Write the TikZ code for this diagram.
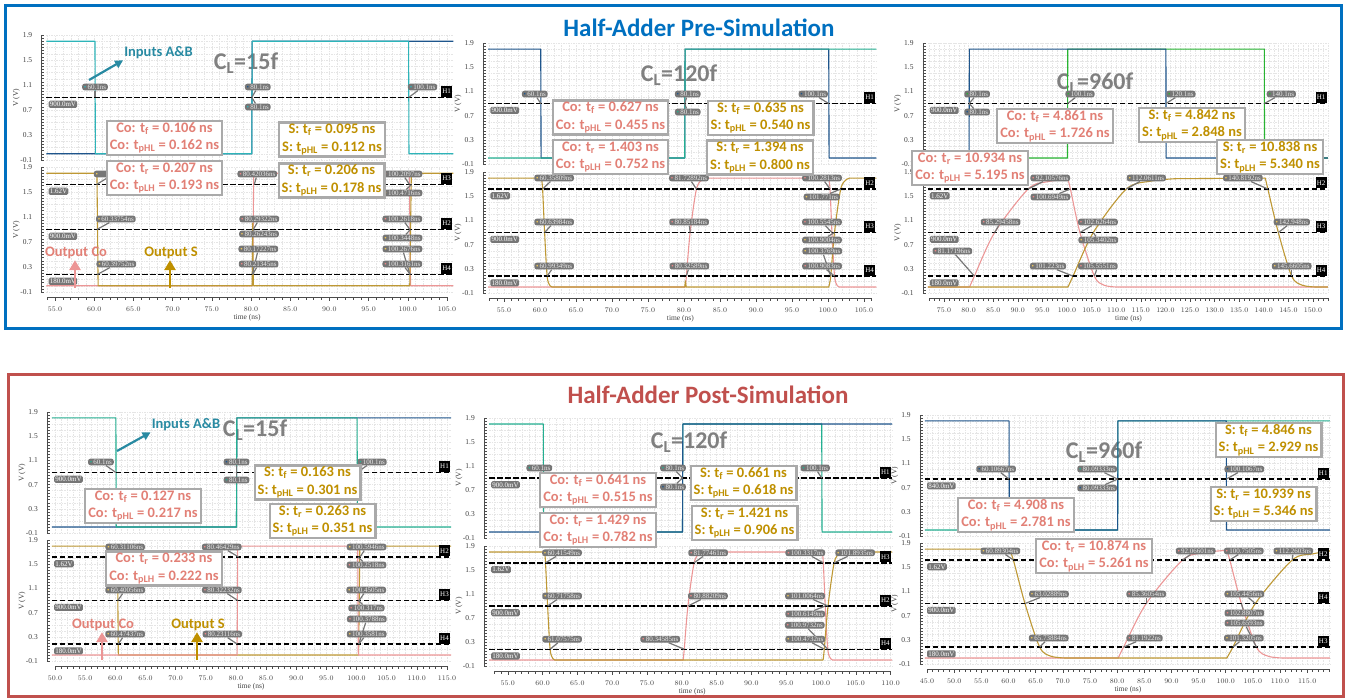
\documentclass[tikz,border=0pt]{standalone}
\usepackage{fontspec}
\setmainfont{Carlito}
\newfontfamily\plotfont{Liberation Serif}
\usetikzlibrary{arrows.meta}

\definecolor{preblue}{RGB}{0,112,192}
\definecolor{postred}{RGB}{192,80,77}
\definecolor{inAone}{RGB}{45,180,185}
\definecolor{inA}{RGB}{35,175,145}
\definecolor{inG}{RGB}{40,180,50}
\definecolor{inB}{RGB}{30,85,140}
\definecolor{wavePink}{RGB}{236,150,150}
\definecolor{waveGold}{RGB}{190,152,52}
\definecolor{dotPink}{RGB}{238,135,135}
\definecolor{dotGold}{RGB}{240,200,90}
\definecolor{coText}{RGB}{226,128,118}
\definecolor{sText}{RGB}{191,144,0}
\definecolor{inText}{RGB}{40,138,162}
\definecolor{boxGray}{RGB}{170,170,170}
\definecolor{mkGray}{RGB}{118,118,118}
\definecolor{clGray}{RGB}{128,128,128}

\newcommand{\tsb}[1]{t\textsubscript{#1}}

% grid, V ruler and its labels for one sub-plot
\newcommand{\yaxis}[2]{%
  \draw[gridline] (#1,-0.1) grid[xstep=1,ystep=0.1] (#2,1.9);
  \draw[axisline] ([xshift=-5pt]#1,-0.1) -- ([xshift=-5pt]#1,1.9);
  \foreach \i in {0,...,40}
    \draw[axisline] ([xshift=-5pt]#1,{-0.1+0.05*\i}) -- ++(3pt,0pt);
  \foreach \yv [count=\k] in {-0.1,0.3,0.7,1.1,1.5,1.9}
    \node[ylab, anchor=east] (yl\k) at ([xshift=-14pt]#1,\yv) {\yv};
  \node[ylab, rotate=90] (vlab) at ([xshift=-30pt]#1,0.9) {V (V)};
}
% time ruler: first tick, last tick, labels a, b, ..., z
\newcommand{\taxis}[5]{%
  \pgfmathsetmacro\tmid{(#1+#2)/2}
  \draw[axisline] ([yshift=-5pt]#1,-0.1) -- ([yshift=-5pt]#2,-0.1);
  \foreach \tm in {#1,...,#2}
    \draw[axisline] ([yshift=-5pt]\tm,-0.1) -- ++(0pt,-2.5pt);
  \foreach \tm [count=\k] in {#3,#4,...,#5}{
    \draw[axisline] ([yshift=-5pt]\tm,-0.1) -- ++(0pt,-4pt);
    \node[ylab] (tl\k) at ([yshift=-17pt]\tm,-0.1)
      {\pgfmathprintnumber[fixed,fixed zerofill,precision=1]{\tm}};}
  \node[ylab] (tlab) at ([yshift=-26pt]\tmid,-0.1) {time (ns)};
}
% threshold: level, left, right, tag, value
\newcommand{\thr}[5]{%
  \draw[thrline] (#2,#1) -- (#3,#1);
  \node[hbox, anchor=east] (hb) at ([xshift=-1pt,yshift=6pt]#3,#1) {#4};
  \node[valbox, anchor=north west] (vb) at ([xshift=2pt,yshift=-3pt]#2,#1) {#5};
}
% marker: dot colour, time, level, dx, dy, text
\newcommand{\mk}[6]{%
  \coordinate (mp) at (#2,#3);
  \node[mkbox, xshift=#4pt, yshift=#5pt] (mb) at (mp) {{\color{#1}\textbullet}\,#6};
  \draw[mkline] (mb) -- (mp);
}

\tikzset{
  gridline/.style={black!10, line width=0.3pt, dash pattern=on 1.5pt off 1pt},
  axisline/.style={black!70, line width=0.5pt},
  ylab/.style={font=\plotfont\fontsize{7.5}{8}\selectfont, text=black!75, inner sep=0pt},
  thrline/.style={black, line width=1.4pt, dash pattern=on 5.5pt off 2.5pt},
  hbox/.style={fill=black, text=white, inner sep=1pt, minimum size=11pt,
    font=\plotfont\fontsize{7}{8}\selectfont},
  valbox/.style={fill=mkGray, text=white, rounded corners=1.5pt, inner sep=1.2pt,
    font=\plotfont\fontsize{7}{8}\selectfont},
  mkbox/.style={fill=mkGray, text=white!92!black, rounded corners=2.5pt,
    inner xsep=1.8pt, inner ysep=1pt, font=\plotfont\fontsize{7}{8}\selectfont},
  mkline/.style={draw=mkGray, line width=1.2pt},
  wave/.style={line width=1.1pt, line join=round},
  anno/.style={draw=boxGray, line width=2.3pt, fill=white, align=center,
    inner xsep=3pt, inner ysep=1.5pt, font=\bfseries\fontsize{14.5}{17.5}\selectfont},
  cl/.style={text=clGray, font=\bfseries\fontsize{24}{26}\selectfont},
  heading/.style={font=\bfseries\fontsize{25}{28}\selectfont},
  tag/.style={font=\bfseries\fontsize{14.5}{16}\selectfont, inner sep=1pt},
  bigarrow/.style={line width=2.8pt, -{Triangle[length=10pt, width=11pt]}},
  top1/.style={shift={(-376.2,153.75)}, x=7.84pt, y=62.5pt},
  bot1/.style={shift={(-376.2,285.75)}, x=7.84pt, y=62.5pt},
  top2/.style={shift={(108,158)}, x=7.2pt, y=60.5pt},
  bot2/.style={shift={(108,287)}, x=7.2pt, y=60.5pt},
  top3/.style={shift={(575,158)}, x=4.92pt, y=60.5pt},
  bot3/.style={shift={(575,287)}, x=4.92pt, y=60.5pt},
  top4/.style={shift={(-246.5,527)}, x=6.03pt, y=60.6pt},
  bot4/.style={shift={(-246.5,655)}, x=6.03pt, y=60.5pt},
  top5/.style={shift={(125,532)}, x=6.96pt, y=60pt},
  bot5/.style={shift={(125,660)}, x=6.96pt, y=60pt},
  top6/.style={shift={(682.7,530)}, x=5.43pt, y=60.6pt},
  bot6/.style={shift={(682.7,658)}, x=5.43pt, y=60.5pt},
}

\begin{document}
\begin{tikzpicture}[x=1pt, y=-1pt]
  \useasboundingbox (0,0) rectangle (1348,698);

  % frames and headings
  \draw[preblue, line width=3pt] (5,6) rectangle (1341,328);
  \draw[postred, line width=3pt] (8,374) rectangle (1343,696);
  \node[heading, text=preblue] (pre) at (699,28) {Half-Adder Pre-Simulation};
  \node[heading, text=postred] (post) at (708,395) {Half-Adder Post-Simulation};

  %% ---------- pre, 15f ----------
  \begin{scope}[top1] \yaxis{53.9}{105.8} \end{scope}
  \node[cl] (cl1) at (246,63) {C\textsubscript{L}=15f};
  \begin{scope}[top1]
    \draw[wave, inB] (53.9,0) -- (80.1,0) -- (80.15,1.8) -- (105.8,1.8);
    \draw[wave, inAone] (53.9,1.8) -- (60.1,1.8) -- (60.15,0) -- (80.1,0) -- (80.15,1.8)
      -- (100.1,1.8) -- (100.15,0) -- (105.8,0);
    \thr{0.9}{53.9}{105.8}{H1}{900.0mV}
    \mk{inAone}{60.1}{0.9}{0}{10.5}{60.1ns}
    \mk{inB}{80.1}{0.9}{6}{10.5}{80.1ns}
    \mk{inAone}{80.1}{0.9}{6}{-9.5}{80.1ns}
    \mk{inAone}{100.1}{0.9}{14}{10.5}{100.1ns}
  \end{scope}
  \begin{scope}[bot1]
    \yaxis{53.9}{105.8}
    \taxis{54}{105}{55}{60}{105}
    \draw[wave, wavePink] (53.9,0) -- (80.2,0) -- (80.35,1.8) -- (100.2,1.8) -- (100.35,0) -- (105.8,0);
    \draw[wave, waveGold] (53.9,1.8) -- (60.35,1.8) -- (60.5,0) -- (80.15,0) -- (80.22,1.0)
      -- (80.3,0) -- (100.25,0) -- (100.45,1.8) -- (105.8,1.8);
    \thr{1.62}{53.9}{105.8}{H3}{1.62V}
    \thr{0.9}{53.9}{105.8}{H2}{900.0mV}
    \thr{0.18}{53.9}{105.8}{H4}{180.0mV}
    \mk{dotGold}{60.3}{1.62}{17}{10.5}{\phantom{60.31106ns}}
    \mk{dotGold}{60.34}{0.9}{19}{10.5}{60.33754ns}
    \mk{dotGold}{60.4}{0.18}{19}{10.5}{60.39752ns}
    \mk{dotPink}{80.42}{1.62}{3}{10.5}{80.42036ns}
    \mk{dotPink}{80.29}{0.9}{6}{10.5}{80.29322ns}
    \mk{dotGold}{80.26}{0.9}{6}{-4.5}{80.26243ns}
    \mk{dotGold}{80.17}{0.18}{6}{25.5}{80.17227ns}
    \mk{dotPink}{80.21}{0.18}{6}{10.5}{80.21345ns}
    \mk{dotPink}{100.21}{1.62}{-7}{10.5}{100.2097ns}
    \mk{dotGold}{100.47}{1.62}{-9}{-8.5}{100.4716ns}
    \mk{dotPink}{100.26}{0.9}{-7.5}{10.5}{100.2618ns}
    \mk{dotGold}{100.34}{0.9}{-8}{-8.5}{100.3448ns}
    \mk{dotGold}{100.27}{0.18}{-7.5}{25.5}{100.2676ns}
    \mk{dotPink}{100.32}{0.18}{-8}{10.5}{100.3161ns}
  \end{scope}

  %% ---------- pre, 120f ----------
  \begin{scope}[top2] \yaxis{52.8}{106.7} \end{scope}
  \node[cl] (cl2) at (679,75) {C\textsubscript{L}=120f};
  \begin{scope}[top2]
    \draw[wave, inB] (52.8,1.8) -- (60.1,1.8) -- (60.15,0) -- (80.1,0) -- (80.15,1.8)
      -- (100.1,1.8) -- (100.15,0) -- (106.7,0);
    \draw[wave, inA] (52.8,0) -- (80.1,0) -- (80.15,1.8) -- (106.7,1.8);
    \thr{0.9}{52.8}{106.7}{H1}{900.0mV}
    \mk{inB}{60.1}{0.9}{-6}{9.5}{60.1ns}
    \mk{inB}{80.1}{0.9}{3}{9.5}{80.1ns}
    \mk{inA}{80.1}{0.9}{3}{-8.5}{80.1ns}
    \mk{inB}{100.1}{0.9}{-15.5}{9.5}{100.1ns}
  \end{scope}
  \begin{scope}[bot2]
    \yaxis{52.8}{106.7}
    \taxis{53}{106}{55}{60}{105}
    \draw[wave, wavePink] (52.8,0) -- (80.2,0)
      -- plot[smooth, tension=0.5] coordinates {(80.2,0) (80.33,0.18) (80.85,0.9) (81.73,1.62) (82.6,1.78) (83.3,1.8)}
      -- (100.1,1.8)
      -- plot[smooth, tension=0.5] coordinates {(100.1,1.8) (100.28,1.62) (100.55,0.9) (100.91,0.18) (101.3,0.02) (101.7,0)}
      -- (106.7,0);
    \draw[wave, waveGold] (52.8,1.8) -- (60.2,1.8)
      -- plot[smooth, tension=0.5] coordinates {(60.2,1.8) (60.36,1.62) (60.64,0.9) (60.99,0.18) (61.4,0.02) (61.8,0)}
      -- (80.1,0) -- (80.2,0.1) -- (80.3,0) -- (100.1,0)
      -- plot[smooth, tension=0.5] coordinates {(100.1,0) (100.38,0.18) (100.9,0.9) (101.77,1.62) (102.6,1.78) (103.2,1.8)}
      -- (106.7,1.8);
    \thr{1.62}{52.8}{106.7}{H2}{1.62V}
    \thr{0.9}{52.8}{106.7}{H3}{900.0mV}
    \thr{0.18}{52.8}{106.7}{H4}{180.0mV}
    \mk{dotGold}{60.36}{1.62}{11.5}{11}{60.35809ns}
    \mk{dotGold}{60.64}{0.9}{9.5}{10.5}{60.63984ns}
    \mk{dotGold}{60.99}{0.18}{7}{10}{60.99349ns}
    \mk{dotPink}{81.73}{1.62}{-7.5}{11}{81.72892ns}
    \mk{dotPink}{80.85}{0.9}{-1}{10.5}{80.85184ns}
    \mk{dotPink}{80.33}{0.18}{3}{10}{80.32589ns}
    \mk{dotPink}{100.28}{1.62}{-8}{11}{100.2813ns}
    \mk{dotGold}{101.77}{1.62}{-19}{-8}{101.771ns}
    \mk{dotPink}{100.55}{0.9}{-10}{10.5}{100.5545ns}
    \mk{dotGold}{100.9}{0.9}{-12.5}{-7.5}{100.9004ns}
    \mk{dotGold}{100.38}{0.18}{-8.5}{25}{100.3769ns}
    \mk{dotPink}{100.91}{0.18}{-12.5}{10}{100.9083ns}
  \end{scope}

  %% ---------- pre, 960f ----------
  \begin{scope}[top3] \yaxis{71.7}{153} \end{scope}
  \node[cl] (cl3) at (1095,83) {C\textsubscript{L}=960f};
  \begin{scope}[top3]
    \draw[wave, inG] (71.7,0) -- (100.1,0) -- (100.15,1.8) -- (140.1,1.8) -- (140.15,0) -- (153,0);
    \draw[wave, inB] (71.7,0) -- (80.1,0) -- (80.15,1.8) -- (120.1,1.8) -- (120.15,0) -- (153,0);
    \thr{0.9}{71.7}{153}{H1}{900.0mV}
    \mk{inG}{80.1}{0.9}{8}{9.5}{80.1ns}
    \mk{inB}{80.1}{0.9}{8}{-8.5}{80.1ns}
    \mk{inG}{100.1}{0.9}{12.5}{9.5}{100.1ns}
    \mk{inG}{120.1}{0.9}{15}{9.5}{120.1ns}
    \mk{inG}{140.1}{0.9}{17}{9.5}{140.1ns}
  \end{scope}
  \begin{scope}[bot3]
    \yaxis{71.7}{153}
    \taxis{72}{153}{75}{80}{150}
    \draw[wave, wavePink] (71.7,0) -- (80.2,0)
      -- plot[smooth, tension=0.5] coordinates {(80.2,0) (81.17,0.18) (85.29,0.9) (92.11,1.62) (96,1.74) (100.2,1.78)}
      -- plot[smooth, tension=0.5] coordinates {(100.2,1.78) (100.69,1.62) (102.63,0.9) (105.56,0.18) (107.5,0.03) (110,0)}
      -- (153,0);
    \draw[wave, waveGold] (71.7,0) -- (100.2,0)
      -- plot[smooth, tension=0.5] coordinates {(100.2,0) (101.22,0.18) (105.34,0.9) (112.06,1.62) (117,1.75) (122,1.79)}
      -- (140.3,1.8)
      -- plot[smooth, tension=0.5] coordinates {(140.3,1.8) (140.82,1.62) (142.95,0.9) (145.66,0.18) (147.8,0.03) (150.5,0)}
      -- (153,0);
    \thr{1.62}{71.7}{153}{H2}{1.62V}
    \thr{0.9}{71.7}{153}{H3}{900.0mV}
    \thr{0.18}{71.7}{153}{H4}{180.0mV}
    \mk{dotPink}{92.11}{1.62}{22}{11}{92.10576ns}
    \mk{dotPink}{100.69}{1.62}{-20}{-8}{100.6949ns}
    \mk{dotPink}{85.29}{0.9}{6}{10.5}{85.29458ns}
    \mk{dotPink}{81.17}{0.18}{-22}{25}{81.17196ns}
    \mk{dotPink}{102.63}{0.9}{18}{10.5}{102.6264ns}
    \mk{dotGold}{105.34}{0.9}{5}{-7.5}{105.3402ns}
    \mk{dotGold}{101.22}{0.18}{-25}{10}{101.223ns}
    \mk{dotPink}{105.56}{0.18}{3.5}{10}{105.5551ns}
    \mk{dotGold}{112.06}{1.62}{20}{11}{112.0611ns}
    \mk{dotGold}{140.82}{1.62}{-25}{11}{140.8192ns}
    \mk{dotGold}{142.95}{0.9}{13.5}{10.5}{142.948ns}
    \mk{dotGold}{145.66}{0.18}{0}{10}{145.6605ns}
  \end{scope}

  %% ---------- post, 15f ----------
  \begin{scope}[top4] \yaxis{49.5}{115.7} \end{scope}
  \node[cl] (cl4) at (255,430) {C\textsubscript{L}=15f};
  \begin{scope}[top4]
    \draw[wave, inB] (49.5,0) -- (80.1,0) -- (80.15,1.8) -- (115.7,1.8);
    \draw[wave, inA] (49.5,1.8) -- (60.1,1.8) -- (60.15,0) -- (80.1,0) -- (80.15,1.8)
      -- (100.1,1.8) -- (100.15,0) -- (115.7,0);
    \thr{0.9}{49.5}{115.7}{H1}{900.0mV}
    \mk{inA}{60.1}{0.9}{-15}{10.5}{60.1ns}
    \mk{inB}{80.1}{0.9}{0}{10.5}{80.1ns}
    \mk{inA}{80.1}{0.9}{0}{-7.5}{80.1ns}
    \mk{inA}{100.1}{0.9}{15}{10.5}{100.1ns}
  \end{scope}
  \begin{scope}[bot4]
    \yaxis{49.5}{115.7}
    \taxis{50}{115}{50}{55}{115}
    \draw[wave, waveGold] (49.5,1.8) -- (60.35,1.8) -- (60.5,0) -- (100.35,0) -- (100.55,1.8) -- (115.7,1.8);
    \draw[wave, wavePink] (49.5,0) -- (80.2,0) -- (80.3,1.8) -- (100.2,1.8) -- (100.3,0) -- (115.7,0);
    \thr{1.62}{49.5}{115.7}{H2}{1.62V}
    \thr{0.9}{49.5}{115.7}{H3}{900.0mV}
    \thr{0.18}{49.5}{115.7}{H4}{180.0mV}
    \mk{dotGold}{60.31}{1.62}{8}{10}{60.31106ns}
    \mk{dotGold}{60.4}{0.9}{7.5}{10.5}{60.40056ns}
    \mk{dotGold}{60.47}{0.18}{7}{10}{60.47437ns}
    \mk{dotPink}{80.46}{1.62}{-17}{10}{80.46429ns}
    \mk{dotPink}{80.32}{0.9}{-16}{10.5}{80.32232ns}
    \mk{dotPink}{80.23}{0.18}{-15}{10}{80.23116ns}
    \mk{dotGold}{100.59}{1.62}{6.5}{10}{100.5946ns}
    \mk{dotPink}{100.25}{1.62}{8.5}{-8}{100.2518ns}
    \mk{dotGold}{100.45}{0.9}{7}{10.5}{100.4505ns}
    \mk{dotPink}{100.32}{0.9}{8}{-7.5}{100.317ns}
    \mk{dotPink}{100.38}{0.18}{8}{25}{100.3788ns}
    \mk{dotGold}{100.36}{0.18}{8}{10}{100.3581ns}
  \end{scope}

  %% ---------- post, 120f ----------
  \begin{scope}[top5] \yaxis{52.3}{110.2} \end{scope}
  \node[cl] (cl5) at (689,442) {C\textsubscript{L}=120f};
  \begin{scope}[top5]
    \draw[wave, inA] (52.3,1.8) -- (60.1,1.8) -- (60.15,0) -- (80.1,0) -- (80.15,1.8)
      -- (100.1,1.8) -- (100.15,0) -- (110.2,0);
    \draw[wave, inB] (52.3,0) -- (80.1,0) -- (80.15,1.8) -- (110.2,1.8);
    \thr{0.9}{52.3}{110.2}{H1}{900.0mV}
    \mk{inA}{60.1}{0.9}{-4}{10}{60.1ns}
    \mk{inA}{80.1}{0.9}{-9.5}{10}{80.1ns}
    \mk{inB}{80.1}{0.9}{-9.5}{-9}{80.1ns}
    \mk{inA}{100.1}{0.9}{-6.5}{10}{100.1ns}
  \end{scope}
  \begin{scope}[bot5]
    \yaxis{52.3}{110.2}
    \taxis{53}{110}{55}{60}{110}
    \draw[wave, wavePink] (52.3,0) -- (80.2,0)
      -- plot[smooth, tension=0.5] coordinates {(80.2,0) (80.35,0.18) (80.88,0.9) (81.77,1.62) (82.6,1.78) (83.3,1.8)}
      -- (100.2,1.8)
      -- plot[smooth, tension=0.5] coordinates {(100.2,1.8) (100.33,1.62) (100.61,0.9) (100.97,0.18) (101.4,0.02) (101.8,0)}
      -- (110.2,0);
    \draw[wave, waveGold] (52.3,1.8) -- (60.3,1.8)
      -- plot[smooth, tension=0.5] coordinates {(60.3,1.8) (60.42,1.62) (60.72,0.9) (61.08,0.18) (61.5,0.02) (61.9,0)}
      -- (100.3,0)
      -- plot[smooth, tension=0.5] coordinates {(100.3,0) (100.47,0.18) (101.01,0.9) (101.89,1.62) (102.7,1.78) (103.3,1.8)}
      -- (110.2,1.8);
    \thr{1.62}{52.3}{110.2}{H3}{1.62V}
    \thr{0.9}{52.3}{110.2}{H2}{900.0mV}
    \thr{0.18}{52.3}{110.2}{H4}{180.0mV}
    \mk{dotGold}{60.42}{1.62}{16.5}{10}{60.41549ns}
    \mk{dotGold}{60.72}{0.9}{14.5}{10}{60.71758ns}
    \mk{dotGold}{61.08}{0.18}{12}{10}{61.07575ns}
    \mk{dotPink}{81.77}{1.62}{14}{10}{81.77461ns}
    \mk{dotPink}{80.88}{0.9}{20}{10}{80.88209ns}
    \mk{dotPink}{80.35}{0.18}{-24}{10}{80.34585ns}
    \mk{dotPink}{100.33}{1.62}{-18}{10}{100.3317ns}
    \mk{dotGold}{101.89}{1.62}{21}{10}{101.8935ns}
    \mk{dotGold}{101.01}{0.9}{-23}{10}{101.0064ns}
    \mk{dotPink}{100.61}{0.9}{-20}{-8}{100.6149ns}
    \mk{dotPink}{100.97}{0.18}{-23}{24}{100.9732ns}
    \mk{dotGold}{100.47}{0.18}{-19}{10}{100.4732ns}
  \end{scope}

  %% ---------- post, 960f ----------
  \begin{scope}[top6] \yaxis{44.6}{119.2} \end{scope}
  \node[cl] (cl6) at (1104,452) {C\textsubscript{L}=960f};
  \begin{scope}[top6]
    \draw[wave, inA] (44.6,0) -- (80.1,0) -- (80.15,1.8) -- (119.2,1.8);
    \draw[wave, inB] (44.6,1.8) -- (60.1,1.8) -- (60.15,0) -- (80.1,0) -- (80.15,1.8)
      -- (100.1,1.8) -- (100.15,0) -- (119.2,0);
    \thr{0.84}{44.6}{119.2}{H1}{840.0mV}
    \mk{inB}{60.11}{0.84}{-13}{10}{60.10667ns}
    \mk{inA}{80.09}{0.84}{-20.5}{10}{80.09333ns}
    \mk{inB}{80.09}{0.84}{-20.5}{-9}{80.09333ns}
    \mk{inB}{100.11}{0.84}{18}{10}{100.1067ns}
  \end{scope}
  \begin{scope}[bot6]
    \yaxis{44.6}{119.2}
    \taxis{45}{119}{45}{50}{115}
    \draw[wave, wavePink] (44.6,0) -- (80.2,0)
      -- plot[smooth, tension=0.5] coordinates {(80.2,0) (81.19,0.18) (85.36,0.9) (92.07,1.62) (96,1.74) (100.2,1.78)}
      -- plot[smooth, tension=0.5] coordinates {(100.2,1.78) (100.75,1.62) (102.88,0.9) (105.66,0.18) (107.8,0.03) (110.5,0)}
      -- (119.2,0);
    \draw[wave, waveGold] (44.6,1.8) -- (60.1,1.8)
      -- plot[smooth, tension=0.5] coordinates {(60.1,1.8) (60.89,1.62) (63.03,0.9) (65.74,0.18) (67.8,0.03) (70.5,0)}
      -- (100.2,0)
      -- plot[smooth, tension=0.5] coordinates {(100.2,0) (101.32,0.18) (105.45,0.9) (112.26,1.62) (116,1.72) (119.2,1.77)};
    \thr{1.62}{44.6}{119.2}{H2}{1.62V}
    \thr{0.9}{44.6}{119.2}{H4}{900.0mV}
    \thr{0.18}{44.6}{119.2}{H3}{180.0mV}
    \mk{dotGold}{60.89}{1.62}{-13}{9}{60.89304ns}
    \mk{dotGold}{63.03}{0.9}{24}{9.5}{63.02889ns}
    \mk{dotGold}{65.74}{0.18}{9}{9}{65.73884ns}
    \mk{dotPink}{92.07}{1.62}{13}{9}{92.06601ns}
    \mk{dotPink}{85.36}{0.9}{0}{9.5}{85.36054ns}
    \mk{dotPink}{81.19}{0.18}{21}{9}{81.1922ns}
    \mk{dotPink}{100.75}{1.62}{14}{9}{100.7505ns}
    \mk{dotGold}{112.26}{1.62}{1}{9}{112.2603ns}
    \mk{dotGold}{105.45}{0.9}{-11}{9.5}{105.4456ns}
    \mk{dotPink}{102.88}{0.9}{3}{-9.5}{102.8807ns}
    \mk{dotPink}{105.66}{0.18}{-12}{24}{105.6593ns}
    \mk{dotGold}{101.32}{0.18}{11}{9}{101.3205ns}
  \end{scope}

  %% ---------- delay boxes ----------
  \node[anno, text=coText] (coF1) at (164.5,138) {Co: \tsb{f} = 0.106 ns\\Co: \tsb{pHL} = 0.162 ns};
  \node[anno, text=coText] (coR1) at (164.5,178) {Co: \tsb{r} = 0.207 ns\\Co: \tsb{pLH} = 0.193 ns};
  \node[anno, text=sText] (sF1) at (332,139.5) {S: \tsb{f} = 0.095 ns\\S: \tsb{pHL} = 0.112 ns};
  \node[anno, text=sText] (sR1) at (331.5,180.5) {S: \tsb{r} = 0.206 ns\\S: \tsb{pLH} = 0.178 ns};

  \node[anno, text=coText] (coF2) at (610.5,117.5) {Co: \tsb{f} = 0.627 ns\\Co: \tsb{pHL} = 0.455 ns};
  \node[anno, text=coText] (coR2) at (610.5,157) {Co: \tsb{r} = 1.403 ns\\Co: \tsb{pLH} = 0.752 ns};
  \node[anno, text=sText] (sF2) at (760.5,118) {S: \tsb{f} = 0.635 ns\\S: \tsb{pHL} = 0.540 ns};
  \node[anno, text=sText] (sR2) at (760,157.5) {S: \tsb{r} = 1.394 ns\\S: \tsb{pLH} = 0.800 ns};

  \node[anno, text=coText] (coF3) at (1055,126) {Co: \tsb{f} = 4.861 ns\\Co: \tsb{pHL} = 1.726 ns};
  \node[anno, text=sText] (sF3) at (1192,125) {S: \tsb{f} = 4.842 ns\\S: \tsb{pHL} = 2.848 ns};
  \node[anno, text=coText] (coR3) at (970,168) {Co: \tsb{r} = 10.934 ns\\Co: \tsb{pLH} = 5.195 ns};
  \node[anno, text=sText] (sR3) at (1270,157) {S: \tsb{r} = 10.838 ns\\S: \tsb{pLH} = 5.340 ns};

  \node[anno, text=coText] (coF4) at (143,506) {Co: \tsb{f} = 0.127 ns\\Co: \tsb{pHL} = 0.217 ns};
  \node[anno, text=sText] (sF4) at (307.5,482.5) {S: \tsb{f} = 0.163 ns\\S: \tsb{pHL} = 0.301 ns};
  \node[anno, text=sText] (sR4) at (322.5,521) {S: \tsb{r} = 0.263 ns\\S: \tsb{pLH} = 0.351 ns};
  \node[anno, text=coText] (coR4) at (164,568.5) {Co: \tsb{r} = 0.233 ns\\Co: \tsb{pLH} = 0.222 ns};

  \node[anno, text=coText] (coF5) at (598,490) {Co: \tsb{f} = 0.641 ns\\Co: \tsb{pHL} = 0.515 ns};
  \node[anno, text=coText] (coR5) at (598,530) {Co: \tsb{r} = 1.429 ns\\Co: \tsb{pLH} = 0.782 ns};
  \node[anno, text=sText] (sF5) at (743.5,483) {S: \tsb{f} = 0.661 ns\\S: \tsb{pHL} = 0.618 ns};
  \node[anno, text=sText] (sR5) at (744.5,523) {S: \tsb{r} = 1.421 ns\\S: \tsb{pLH} = 0.906 ns};

  \node[anno, text=sText] (sF6) at (1268.5,440) {S: \tsb{f} = 4.846 ns\\S: \tsb{pHL} = 2.929 ns};
  \node[anno, text=sText] (sR6) at (1263.5,504) {S: \tsb{r} = 10.939 ns\\S: \tsb{pLH} = 5.346 ns};
  \node[anno, text=coText] (coF6) at (1016,515) {Co: \tsb{f} = 4.908 ns\\Co: \tsb{pHL} = 2.781 ns};
  \node[anno, text=coText] (coR6) at (1094,556) {Co: \tsb{r} = 10.874 ns\\Co: \tsb{pLH} = 5.261 ns};

  %% ---------- signal tags ----------
  \node[tag, text=inText] (inputs1) at (158.5,53) {Inputs A\&B};
  \coordinate (inTail1) at (89,80);
  \draw[inText, line width=2.2pt, -{Triangle[length=8pt, width=8pt]}] (inTail1) -- (inputs1.south west);
  \node[tag, text=coText] (outCo1) at (76,253) {Output Co};
  \coordinate (coTail1) at (75,288);
  \draw[bigarrow, wavePink] (coTail1) -- (coTail1 |- outCo1.south);
  \node[tag, text=sText] (outS1) at (171,253) {Output S};
  \coordinate (sTail1) at (170,288);
  \draw[bigarrow, sText] (sTail1) -- (sTail1 |- outS1.south);

  \node[tag, text=inText] (inputs4) at (186,425) {Inputs A\&B};
  \coordinate (inTail4) at (117,451);
  \draw[inText, line width=2.2pt, -{Triangle[length=8pt, width=8pt]}] (inTail4) -- (inputs4.south west);
  \node[tag, text=coText] (outCo4) at (103,625) {Output Co};
  \coordinate (coTail4) at (102,660);
  \draw[bigarrow, wavePink] (coTail4) -- (coTail4 |- outCo4.south);
  \node[tag, text=sText] (outS4) at (198,625) {Output S};
  \coordinate (sTail4) at (197,660);
  \draw[bigarrow, sText] (sTail4) -- (sTail4 |- outS4.south);
\end{tikzpicture}
\end{document}
